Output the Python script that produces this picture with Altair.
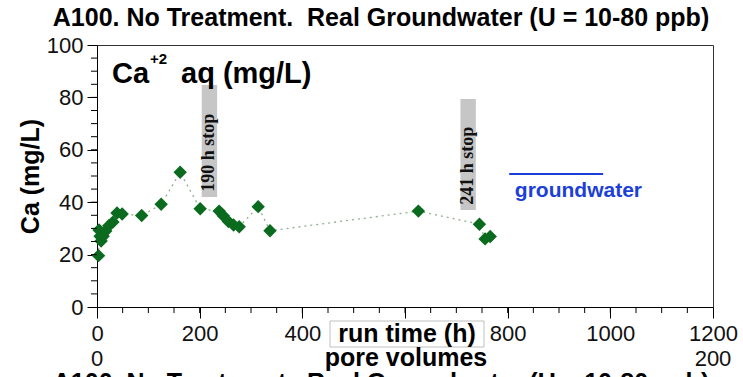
import altair as alt
import pandas as pd

# Ca+2 measurements: run time (h) and concentration (mg/L)
hours = [3, 4, 6, 8, 12, 17, 23, 31, 39, 49, 87, 125, 162, 201, 238, 246, 256, 266, 277, 314, 337, 626, 745, 756, 766]
ca = [19.6, 29.4, 27.0, 25.2, 27.0, 29.0, 31.0, 32.4, 35.9, 35.5, 34.9, 39.2, 51.4, 37.5, 36.6, 34.8, 32.6, 31.3, 30.6, 38.3, 29.1, 36.6, 31.6, 26.0, 26.9]

# flow-stop annotations (shaded bands with rotated labels)
stop_labels = ["190 h stop", "241 h stop"]
stop_x0 = [204, 708]
stop_x1 = [234, 738]
stop_y0 = [42.0, 37.0]
stop_y1 = [84.7, 79.4]
stop_text_y = [44.0, 39.0]

# groundwater reference legend
gw_x0, gw_x1, gw_y = 803, 986, 50.8
gw_label_x, gw_label_y = 814, 44.3

# axis ticks
x_major = [0, 200, 400, 600, 800, 1000, 1200]
x_minor = list(range(50, 1200, 50))
y_major = [0, 20, 40, 60, 80, 100]
y_minor = list(range(5, 100, 5))

# secondary scale: pore volumes (200 PV over 1200 h)
pv_labels = [0, 200]

TITLE = "A100. No Treatment. \u00a0Real Groundwater (U = 10-80 ppb)"
FONT = "Liberation Sans"
W, H = 616, 262

xs = alt.Scale(domain=[0, 1200], nice=False, zero=False)
ys = alt.Scale(domain=[0, 100], nice=False, zero=False)
x_axis = alt.Axis(values=x_major, title=None, grid=False, format="d",
                  labelExpr="datum.value == 600 ? '' : datum.label",
                  labelFontSize=22, labelFont=FONT, labelColor="#111",
                  tickSize=11, tickColor="black", domainColor="black",
                  labelPadding=5, labelFlush=False, labelOverlap=False)
y_axis = alt.Axis(values=y_major, title="Ca (mg/L)", grid=False, format="d",
                  labelFontSize=22, labelFont=FONT, labelColor="#111",
                  tickSize=10, tickColor="black", domainColor="black",
                  labelPadding=4,
                  titleFont=FONT, titleFontSize=25, titleFontWeight="bold",
                  titleColor="black", titleAngle=270, titleX=-67, titleY=131,
                  titleAlign="center", titleBaseline="middle")

def X(field):
    return alt.X(field, type="quantitative", scale=xs, axis=x_axis)

def Y(field):
    return alt.Y(field, type="quantitative", scale=ys, axis=y_axis)

one = pd.DataFrame({"k": [0]})
df = pd.DataFrame({"hours": hours, "ca": ca})
stops = pd.DataFrame({"label": stop_labels, "x0": stop_x0, "x1": stop_x1,
                      "y0": stop_y0, "y1": stop_y1, "ty": stop_text_y})
stops["xc"] = (stops["x0"] + stops["x1"]) / 2

bands = alt.Chart(stops).mark_rect(color="#c6c6c6").encode(
    x=X("x0"), x2="x1", y=Y("y0"), y2="y1")
band_text = alt.Chart(stops).mark_text(
    angle=270, align="left", baseline="middle", font="Liberation Serif",
    fontWeight="bold", fontSize=18, color="#111").encode(
    x=X("xc"), y=Y("ty"), text="label:N")

line = alt.Chart(df).mark_line(color="#8fb08f", strokeWidth=1.3,
                               strokeDash=[2, 4]).encode(
    x=X("hours"), y=Y("ca"), order="hours:Q")
points = alt.Chart(df).mark_point(shape="diamond", filled=True, size=180,
                                  color="#0a6b1f", opacity=1).encode(
    x=X("hours"), y=Y("ca"))

gw = pd.DataFrame({"x0": [gw_x0], "x1": [gw_x1], "y": [gw_y],
                   "tx": [gw_label_x], "ty": [gw_label_y], "t": ["groundwater"]})
gw_rule = alt.Chart(gw).mark_rule(color="#1c3fd8", strokeWidth=2).encode(
    x=X("x0"), x2="x1", y=Y("y"))
gw_text = alt.Chart(gw).mark_text(align="left", baseline="middle", font=FONT,
                                  fontWeight="bold", fontSize=21,
                                  color="#1c3fd8").encode(
    x=X("tx"), y=Y("ty"), text="t:N")

# in-panel species label with superscript charge
def label(txt, x, y, size, **kw):
    return alt.Chart(one).mark_text(font=FONT, fontWeight="bold", fontSize=size,
                                    color="black", **kw).encode(
        x=alt.value(x), y=alt.value(y), text=alt.value(txt))

ca_label = (label("Ca", 15, 38, 29, align="left", baseline="alphabetic")
            + label("+2", 53, 19, 15, align="left", baseline="alphabetic")
            + label("aq (mg/L)", 84, 38, 29, align="left", baseline="alphabetic"))

# minor ticks
ymin = alt.Chart(pd.DataFrame({"v": y_minor})).mark_rule(color="black").encode(
    y=Y("v"), x=alt.value(-6), x2=alt.value(0))
xmin = alt.Chart(pd.DataFrame({"v": x_minor})).mark_rule(color="black").encode(
    x=X("v"), y=alt.value(H), y2=alt.value(H + 6))

# boxed run-time axis title
rt_box = alt.Chart(one).mark_rect(fill="white", stroke="#c0c0c0",
                                  strokeWidth=1).encode(
    x=alt.value(233), x2=alt.value(387), y=alt.value(276), y2=alt.value(302))
rt_text = label("run time (h)", 310, 289, 25, align="center", baseline="middle")

# pore-volume labels
pv = alt.Chart(pd.DataFrame({"pv": pv_labels})).transform_calculate(
    h="datum.pv * 6", t="format(datum.pv, 'd')").mark_text(
    font=FONT, fontSize=22, color="#111", baseline="middle").encode(
    x=X("h:Q"), y=alt.value(314), text="t:N")
pv_title = label("pore volumes", 309, 313, 25, align="center", baseline="middle")

title_top = label(TITLE, 284, -27, 25, align="center", baseline="middle")
title_bottom = label(TITLE, 284, 338, 25, align="center", baseline="middle")

chart = alt.layer(
    bands, band_text, line, points, gw_rule, gw_text, ca_label,
    ymin, xmin, rt_box, rt_text, pv, pv_title, title_top, title_bottom
).properties(
    width=W, height=H, autosize="none",
    padding={"left": 97, "top": 45, "right": 30, "bottom": 70},
    background="white"
).configure_view(stroke="#333", strokeWidth=1)

chart.save("out.html", embed_options={"renderer": "svg", "actions": False})
